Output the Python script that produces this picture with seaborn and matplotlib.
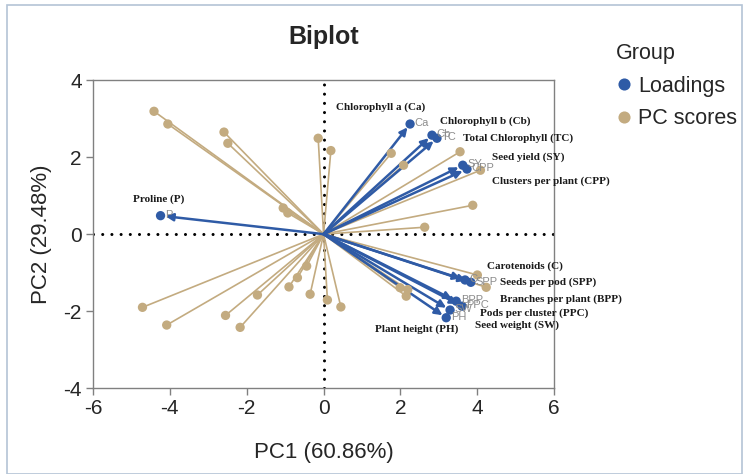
import pandas as pd
import matplotlib.pyplot as plt
import seaborn as sns
from matplotlib.patches import Rectangle

# loadings (variables)
load_abbr = ["Ca", "Cb", "TC", "SY", "CPP", "P", "C", "SPP", "BPP", "PPC", "SW", "PH"]
load_names = ["Chlorophyll a (Ca)", "Chlorophyll b (Cb)", "Total Chlorophyll (TC)",
              "Seed yield (SY)", "Clusters per plant (CPP)", "Proline (P)",
              "Carotenoids (C)", "Seeds per pod (SPP)", "Branches per plant (BPP)",
              "Pods per cluster (PPC)", "Seed weight (SW)", "Plant height (PH)"]
load_pc1 = [2.25, 2.82, 2.95, 3.62, 3.73, -4.24, 3.68, 3.83, 3.45, 3.60, 3.29, 3.19]
load_pc2 = [2.86, 2.57, 2.49, 1.79, 1.69, 0.48, -1.19, -1.25, -1.74, -1.87, -1.97, -2.17]
name_pc1 = [0.33, 3.03, 3.62, 4.38, 4.38, -4.95, 4.25, 4.60, 4.60, 4.08, 3.95, 1.34]
name_pc2 = [3.30, 2.94, 2.49, 2.01, 1.38, 0.91, -0.83, -1.26, -1.70, -2.06, -2.36, -2.48]

# PC scores (observations)
score_pc1 = [-4.41, -4.05, -2.59, -2.49, -1.05, -0.93, -0.14, 0.19,
             1.76, 2.08, 3.55, 4.08, 3.88, 2.63,
             4.00, 4.23, 1.99, 2.19, 2.15, 0.10, 0.45,
             -4.71, -4.08, -2.55, -2.17, -1.72, -0.90, -0.68, -0.44, -0.35]
score_pc2 = [3.19, 2.86, 2.65, 2.36, 0.68, 0.55, 2.49, 2.17,
             2.10, 1.79, 2.14, 1.66, 0.75, 0.18,
             -1.06, -1.38, -1.39, -1.44, -1.61, -1.71, -1.89,
             -1.90, -2.36, -2.11, -2.42, -1.58, -1.37, -1.13, -0.83, -1.56]

blue = "#2f5ba6"
tan = "#c3ab80"

df = pd.concat([
    pd.DataFrame({"PC1": load_pc1, "PC2": load_pc2, "Group": "Loadings"}),
    pd.DataFrame({"PC1": score_pc1, "PC2": score_pc2, "Group": "PC scores"}),
])

sns.set_style("white")
plt.rcParams["font.family"] = ["Liberation Sans", "DejaVu Sans"]
plt.rcParams["axes.unicode_minus"] = False

fig = plt.figure(figsize=(7.49, 4.74), dpi=100)
ax = fig.add_axes([0.124, 0.181, 0.616, 0.65])

ax.plot([-6, 6], [0, 0], color="black", lw=2.2, dashes=(0.01, 3.0),
        dash_capstyle="round", zorder=1)
ax.plot([0, 0], [-4, 4], color="black", lw=2.2, dashes=(0.01, 3.0),
        dash_capstyle="round", zorder=1)

for x, y in zip(score_pc1, score_pc2):
    ax.plot([0, x], [0, y], color=tan, lw=1.2, zorder=2)

for x, y in zip(load_pc1, load_pc2):
    ax.annotate("", xy=(x * 0.97, y * 0.97), xytext=(0, 0),
                arrowprops=dict(arrowstyle="-|>,head_length=0.45,head_width=0.22",
                                color=blue, lw=1.8, shrinkA=0, shrinkB=0),
                zorder=3)

sns.scatterplot(data=df, x="PC1", y="PC2", hue="Group", palette=[blue, tan],
                s=45, edgecolor="none", ax=ax, zorder=4)

for a, x, y in zip(load_abbr, load_pc1, load_pc2):
    ax.text(x + 0.12, y + 0.02, a, color="#8c8c8c", fontsize=8, va="center",
            zorder=5)

for n, x, y in zip(load_names, name_pc1, name_pc2):
    ax.text(x, y, n, family="Liberation Serif", weight="bold", fontsize=8,
            va="center", ha="left", color="#1a1a1a", zorder=5, clip_on=False)

ax.set_xlim(-6, 6)
ax.set_ylim(-4, 4)
ax.set_xticks(range(-6, 7, 2))
ax.set_yticks(range(-4, 5, 2))
ax.tick_params(axis="both", labelsize=15, length=5, width=1, color="#808080",
               direction="out", bottom=True, left=True, pad=3)
for sp in ax.spines.values():
    sp.set_color("#808080")
    sp.set_linewidth(1)
ax.set_xlabel("PC1 (60.86%)", fontsize=16, labelpad=17)
ax.set_ylabel("PC2 (29.48%)", fontsize=16, labelpad=8)
ax.set_title("Biplot", fontsize=18, weight="bold", pad=26)

sns.move_legend(ax, "upper left", bbox_to_anchor=(1.10, 1.17), frameon=False,
                title="Group", fontsize=15.5, title_fontsize=15.5, alignment="left",
                handlelength=0.8, handletextpad=0.25, labelspacing=0.55,
                markerscale=1.3, borderpad=0.2)

fig.add_artist(Rectangle((0.01, 0.0), 0.98, 0.99, transform=fig.transFigure,
                         fill=False, edgecolor="#b4c4d6", lw=1.2))

fig.savefig("out.png", dpi=100)
